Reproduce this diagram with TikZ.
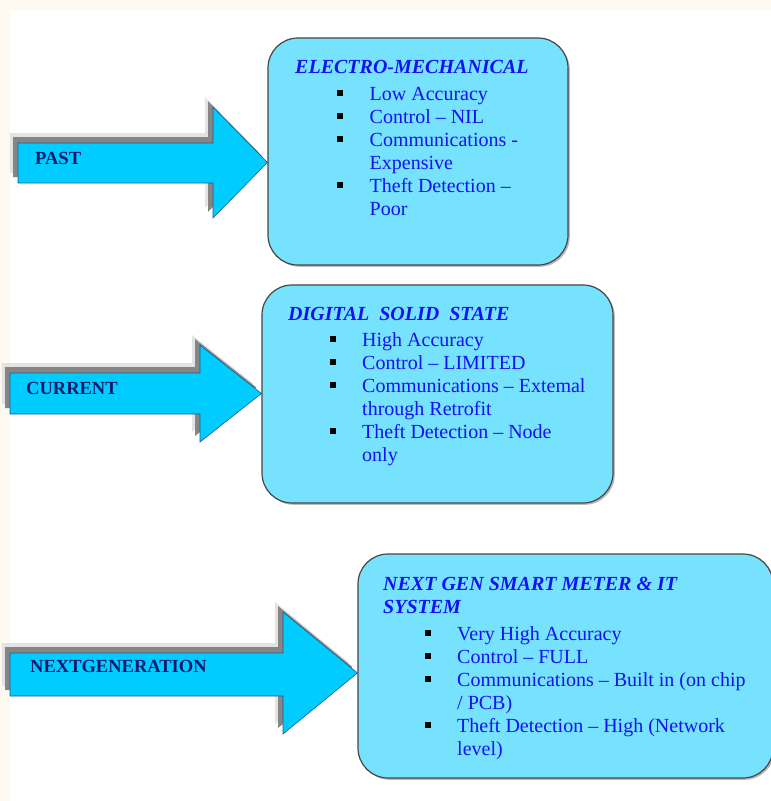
\documentclass[tikz,border=0pt]{standalone}
\usepackage{fontspec}
\setmainfont{Liberation Serif}
\usetikzlibrary{positioning}
\definecolor{MyCyan}{HTML}{76E2FE}
\definecolor{MyArrow}{HTML}{00CCFF}
\definecolor{MyEdge}{HTML}{1E5A8C}
\definecolor{MyBlue}{HTML}{1212F0}
\definecolor{MyNavy}{HTML}{0A1A6E}
\definecolor{MyCream}{HTML}{FDF8F0}
\newcommand{\sqbullet}{\textcolor{black}{\rule[4.5pt]{5.5pt}{5.5pt}}}

\begin{document}
\begin{tikzpicture} [
			x=1pt, y=-1pt,
			every node/.style={inner sep=0pt, font=\fontsize{20}{23}\selectfont},
			stage/.style={draw=gray!55!black, line width=1.2pt, fill=MyCyan, rounded corners=30pt,
				preaction={fill=gray!55, transform canvas={shift={(1.8pt,-1.8pt)}}}},
			blockarrow/.style={fill=MyArrow, draw=MyEdge, line width=0.6pt, line join=miter,
				preaction={fill=gray!22, transform canvas={shift={(-8pt,10pt)}}},
				preaction={fill=gray!95, transform canvas={shift={(-5pt,6pt)}}}},
			legend/.style={anchor=base west, text=MyNavy, font=\fontsize{18.5}{22}\selectfont\bfseries},
			title/.style={anchor=base west, text=MyBlue, font=\fontsize{20}{23}\selectfont\bfseries\itshape},
			items/.style={anchor=base west, text=MyBlue}
		]
			\useasboundingbox (0,0) rectangle (771,801);
			\fill[MyCream] (0,0) rectangle (771,801);
			\fill[white] (10,10) rectangle (771,801);
			% boxes
			\node at (418,151.5) [stage, minimum width=300, minimum height=227] (nodePast) {};
			\node at (437.5,394) [stage, minimum width=351, minimum height=218] (nodeCurrent) {};
			\node at (565.5,666) [stage, minimum width=415, minimum height=224] (nodeNext) {};
			% arrows
			\path[blockarrow] (18,143) -- (213,143) -- (213,107) -- (nodePast.west|-0,162.5) -- (213,218) -- (213,183) -- (18,183) -- cycle;
			\path[blockarrow] (10,373) -- (200,373) -- (200,345) -- (nodeCurrent.west|-0,393.5) -- (200,442) -- (200,414) -- (10,414) -- cycle;
			\path[blockarrow] (10,653) -- (283,653) -- (283,612) -- (nodeNext.west|-0,673) -- (283,734) -- (283,696) -- (10,696) -- cycle;
			\node at (35,164) [legend] (legPast) {PAST};
			\node at (26,394) [legend] (legCurrent) {CURRENT};
			\node at (30,672) [legend] (legNext) {NEXTGENERATION};
			% texts
			\node at (295,73) [title] (titlePast) {ELECTRO-MECHANICAL};
			\node at (337,100) [items] (listPast) {\begin{tabular}[t]{@{}l@{\hskip 27pt}l@{}}
				\sqbullet & Low Accuracy\\
				\sqbullet & Control -- NIL\\
				\sqbullet & Communications -\\
				 & Expensive\\
				\sqbullet & Theft Detection --\\
				 & Poor
			\end{tabular}};
			\node at (288,320) [title] (titleCurrent) {DIGITAL\ \ SOLID\ \ STATE};
			\node at (330,346) [items] (listCurrent) {\begin{tabular}[t]{@{}l@{\hskip 26.5pt}l@{}}
				\sqbullet & High Accuracy\\
				\sqbullet & Control -- LIMITED\\
				\sqbullet & Communications -- Extemal\\
				 & through Retrofit\\
				\sqbullet & Theft Detection -- Node\\
				 & only
			\end{tabular}};
			\node at (383,590) [title] (titleNext) {\begin{tabular}[t]{@{}l@{}}
				NEXT GEN SMART METER \& IT\\
				SYSTEM
			\end{tabular}};
			\node at (425,640) [items] (listNext) {\begin{tabular}[t]{@{}l@{\hskip 26.5pt}l@{}}
				\sqbullet & Very High Accuracy\\
				\sqbullet & Control -- FULL\\
				\sqbullet & Communications -- Built in (on chip\\
				 & / PCB)\\
				\sqbullet & Theft Detection -- High (Network\\
				 & level)
			\end{tabular}};
		\end{tikzpicture}
\end{document}
